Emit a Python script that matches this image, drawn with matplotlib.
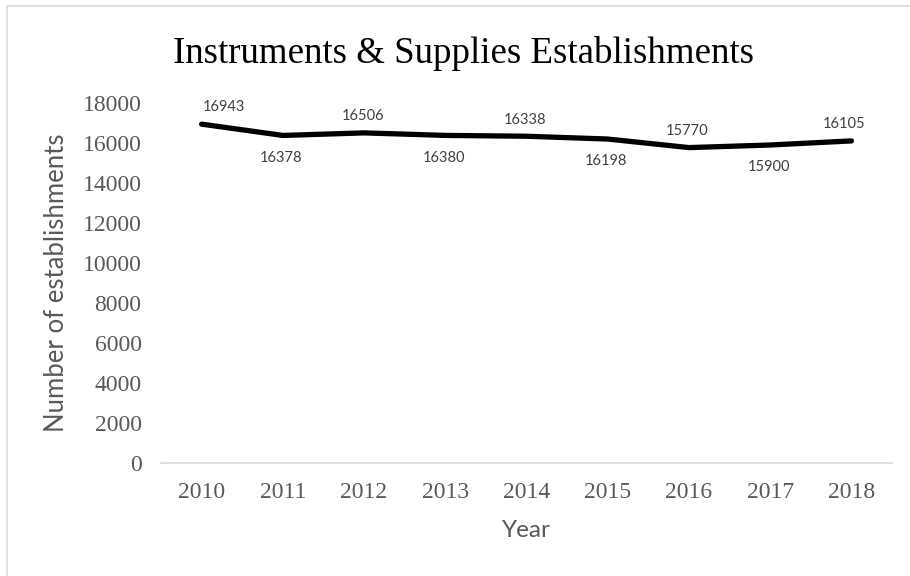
import matplotlib
matplotlib.use('Agg')
import matplotlib.pyplot as plt
from matplotlib.patches import Rectangle

# Data
years = ['2010', '2011', '2012', '2013', '2014', '2015', '2016', '2017', '2018']
establishments = [16943, 16378, 16506, 16380, 16338, 16198, 15770, 15900, 16105]
yticks = [0, 2000, 4000, 6000, 8000, 10000, 12000, 14000, 16000, 18000]

gray = '#595959'
serif = 'Liberation Serif'
sans = 'Lato'

fig = plt.figure(figsize=(9.1, 5.76), dpi=100)
ax = fig.add_axes([161 / 910, 1 - 463 / 576, 731 / 910, 360 / 576])

x = list(range(len(years)))
ax.plot(x, establishments, color='black', linewidth=3.8, solid_capstyle='round',
        solid_joinstyle='round', zorder=3)

# Data labels alternate above / below the line
for i, v in enumerate(establishments):
    above = i % 2 == 0
    dy = 12 if above else -16
    dx = 16 if i == 0 else (-5 if i == len(years) - 1 else -1)
    ax.annotate(str(v), (i, v), xytext=(dx, dy), textcoords='offset points',
                ha='center', va='center', fontsize=10.5, color='#404040',
                fontfamily=sans)

ax.set_xlim(-0.5, len(years) - 0.5)
ax.set_ylim(0, 18000)
ax.set_xticks(x)
ax.set_xticklabels(years, fontfamily=serif, fontsize=17, color=gray)
ax.set_yticks(yticks)
ax.set_yticklabels([str(t) for t in yticks], fontfamily=serif, fontsize=17, color=gray)
ax.tick_params(axis='both', length=0)
ax.tick_params(axis='x', pad=14)
ax.tick_params(axis='y', pad=14)

for side in ['top', 'right', 'left']:
    ax.spines[side].set_visible(False)
ax.spines['bottom'].set_color('#d9d9d9')
ax.spines['bottom'].set_linewidth(1.2)

ax.set_xlabel('Year', fontfamily=sans, fontsize=17.5, color=gray, labelpad=12)
ax.set_ylabel('Number of establishments', fontfamily=sans, fontsize=18.5, color=gray,
              labelpad=10)

fig.text(464 / 910, 1 - 63 / 576, 'Instruments & Supplies Establishments',
         ha='center', va='baseline', fontfamily=serif, fontsize=26.6, color='black')

# Light chart-area frame (runs off the right and bottom edges)
fig.patches.append(Rectangle((7 / 910, -0.05), 1.0, 1 - 6 / 576 + 0.05,
                             transform=fig.transFigure, fill=False,
                             edgecolor='#d9d9d9', linewidth=1.2))

fig.savefig('out.png', dpi=100)
